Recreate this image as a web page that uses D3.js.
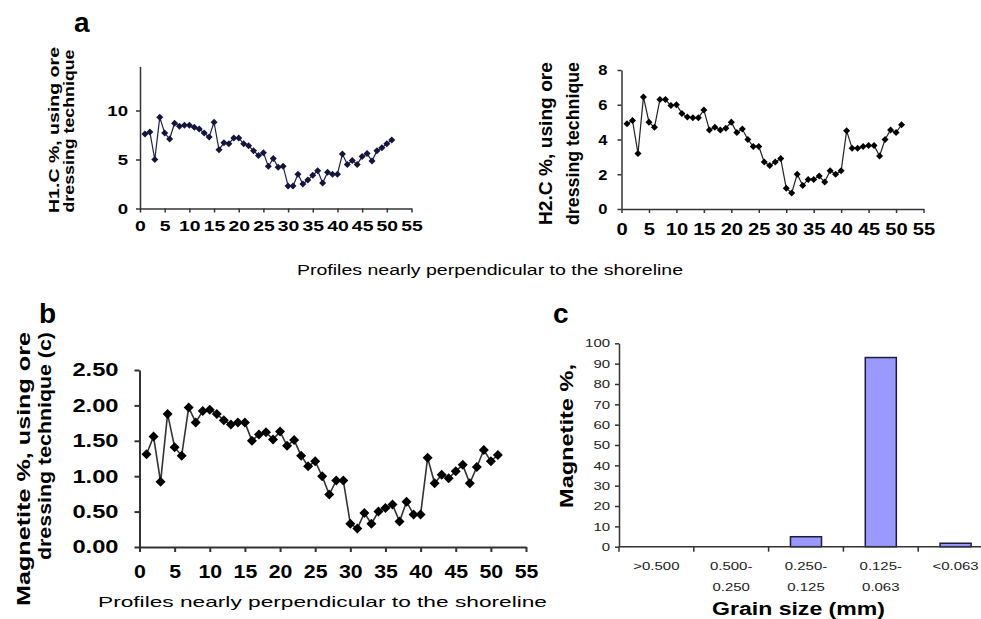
<!DOCTYPE html>
<html><head><meta charset="utf-8">
<script src="https://cdn.jsdelivr.net/npm/d3@7"></script>
<style>body{margin:0;background:#fff} svg{display:block}</style>
</head><body><svg id="chart" width="981" height="619"></svg>
<script>
const FONT = '"Liberation Sans", Arial, sans-serif';

// ---- data ----
const profiles = [1,2,3,4,5,6,7,8,9,10,11,12,13,14,15,16,17,18,19,20,21,22,23,24,25,26,27,28,29,30,31,32,33,34,35,36,37,38,39,40,41,42,43,44,45,46,47,48,49,50,51];
const h1c = [7.6,7.8,5.0,9.3,7.7,7.1,8.7,8.4,8.5,8.5,8.3,8.1,7.7,7.3,8.8,6.0,6.7,6.6,7.2,7.2,6.6,6.4,5.9,5.4,5.7,4.3,5.1,4.2,4.3,2.3,2.3,3.5,2.5,2.9,3.4,3.85,2.6,3.7,3.5,3.5,5.55,4.5,4.9,4.5,5.3,5.6,4.85,5.9,6.2,6.6,7.0];
const h2c = [4.9,5.1,3.2,6.45,5.0,4.7,6.3,6.3,5.95,6.0,5.5,5.3,5.25,5.25,5.7,4.55,4.7,4.55,4.65,5.0,4.4,4.6,4.0,3.6,3.6,2.7,2.5,2.7,2.9,1.2,0.92,2.0,1.35,1.7,1.7,1.9,1.55,2.2,2.0,2.2,4.5,3.5,3.5,3.6,3.65,3.65,3.05,4.0,4.55,4.4,4.85];
const magnetite = [1.31,1.56,0.92,1.88,1.41,1.29,1.97,1.76,1.92,1.94,1.88,1.79,1.73,1.76,1.76,1.50,1.59,1.62,1.52,1.63,1.43,1.51,1.29,1.14,1.21,1.00,0.74,0.94,0.94,0.33,0.26,0.48,0.33,0.50,0.55,0.60,0.36,0.64,0.46,0.46,1.26,0.90,1.02,0.97,1.07,1.16,0.90,1.13,1.37,1.21,1.30];
const grainSizes = [">0.500", "0.500-\n0.250", "0.250-\n0.125", "0.125-\n0.063", "<0.063"];
const grainMagnetite = [0, 0, 4.9, 93, 1.7];

const xTicks = [0,5,10,15,20,25,30,35,40,45,50,55];
const h1Ticks = [0,5,10];
const h2Ticks = [0,2,4,6,8];
const magTicks = [0,0.5,1.0,1.5,2.0,2.5];
const grainTicks = [0,10,20,30,40,50,60,70,80,90,100];

const svg = d3.select("#chart");

function stretch(sel, f){
  sel.each(function(){
    const w = this.getComputedTextLength();
    this.setAttribute("textLength", w*f);
    this.setAttribute("lengthAdjust","spacingAndGlyphs");
  });
}
function fitText(sel, len){
  sel.attr("textLength", len).attr("lengthAdjust","spacingAndGlyphs");
}

function linePanel(c){
  const g = svg.append("g");
  const x = d3.scaleLinear().domain([0,55]).range(c.xr);
  const y = d3.scaleLinear().domain(c.yd).range(c.yr);
  const ax = g.append("g").attr("transform",`translate(0,${c.yr[0]})`)
    .call(d3.axisBottom(x).tickValues(xTicks).tickSize(c.ts).tickSizeOuter(0).tickPadding(c.xpad));
  const ay = g.append("g").attr("transform",`translate(${c.xr[0]},0)`)
    .call(d3.axisLeft(y).tickValues(c.yt).tickFormat(c.fmt).tickSize(c.ts).tickSizeOuter(0).tickPadding(c.ypad));
  [ax,ay].forEach(a=>{
    a.attr("font-family",FONT);
    a.select(".domain").attr("stroke",c.axisColor).attr("stroke-width",c.aw);
    a.selectAll(".tick line").attr("stroke",c.axisColor).attr("stroke-width",c.aw);
  });
  ax.selectAll(".tick text").attr("font-size",c.xfs).attr("font-weight","bold").attr("fill","#000");
  ay.selectAll(".tick text").attr("font-size",c.yfs).attr("font-weight","bold").attr("fill","#000");
  stretch(ax.selectAll(".tick text"), c.xst);
  stretch(ay.selectAll(".tick text"), c.yst);

  const pts = profiles.map((p,i)=>[p, c.data[i]]);
  g.append("path").datum(pts)
    .attr("fill","none").attr("stroke",c.lineColor).attr("stroke-width",c.lw)
    .attr("d", d3.line().x(d=>x(d[0])).y(d=>y(d[1])));
  const sym = d3.symbol(d3.symbolSquare, c.ms*c.ms/2);
  g.append("g").selectAll("path").data(pts).join("path")
    .attr("d", sym)
    .attr("transform", d=>`translate(${x(d[0])},${y(d[1])}) rotate(45)`)
    .attr("fill", c.markColor);

  c.ytitle.forEach(t=>{
    g.append("text").attr("transform",`translate(${t.x},${t.y}) rotate(-90)`)
      .attr("text-anchor",t.anchor).attr("font-family",FONT).attr("font-weight","bold")
      .attr("font-size",c.tfs).attr("fill","#000").text(t.s)
      .call(s=>fitText(s,t.len));
  });
}

// Panel a (left)
linePanel({
  data:h1c, xr:[140,411.5], yd:[0,14.5], yr:[208.5,66.4], yt:h1Ticks, fmt:d3.format("d"),
  ts:4, xpad:7, ypad:8, axisColor:"#333", aw:1.5, xfs:15.5, yfs:15.5, xst:1.25, yst:1.2,
  lineColor:"#1f1f4f", lw:1.2, markColor:"#14143c", ms:7,
  tfs:15.5,
  ytitle:[{s:"H1.C %,  using ore", x:59, y:130, anchor:"middle", len:166},
          {s:"dressing technique", x:74, y:131, anchor:"middle", len:163}]
});
// Panel a (right)
linePanel({
  data:h2c, xr:[621.5,923.5], yd:[0,8], yr:[209,70], yt:h2Ticks, fmt:d3.format("d"),
  ts:4, xpad:10, ypad:10, axisColor:"#333", aw:1.5, xfs:16.5, yfs:15, xst:1.22, yst:1.1,
  lineColor:"#222", lw:1.2, markColor:"#000", ms:7,
  tfs:17.5,
  ytitle:[{s:"H2.C %, using ore", x:552, y:143.5, anchor:"middle", len:163},
          {s:"dressing technique", x:579, y:143.5, anchor:"middle", len:163}]
});
// Panel b
linePanel({
  data:magnetite, xr:[139.5,526], yd:[0,2.5], yr:[547,370], yt:magTicks, fmt:d3.format(".2f"),
  ts:5, xpad:13, ypad:16, axisColor:"#333", aw:2, xfs:18.5, yfs:18.5, xst:1.15, yst:1.28,
  lineColor:"#333", lw:1.6, markColor:"#000", ms:10,
  tfs:18.5,
  ytitle:[{s:"Magnetite %, using ore", x:30, y:332, anchor:"end", len:274},
          {s:"dressing technique (c)", x:51, y:332, anchor:"end", len:228}]
});

// Panel labels
[["a",74,32],["b",39,323],["c",553,323]].forEach(([s,x,y])=>{
  svg.append("text").attr("x",x).attr("y",y).attr("font-family",FONT).attr("font-weight","bold")
    .attr("font-size",28).attr("fill","#000").text(s);
});

// X titles for line panels
svg.append("text").attr("x",297).attr("y",275).attr("font-family",FONT).attr("font-size",14)
  .attr("fill","#000").text("Profiles nearly perpendicular to  the shoreline").call(s=>fitText(s,386));
svg.append("text").attr("x",98).attr("y",607).attr("font-family",FONT).attr("font-size",15)
  .attr("fill","#000").text("Profiles nearly perpendicular to  the shoreline").call(s=>fitText(s,449));

// Panel c
(function(){
  const g = svg.append("g");
  const x = d3.scaleBand().domain(grainSizes).range([619,993]).paddingInner(0.585).paddingOuter(0.2925);
  const y = d3.scaleLinear().domain([0,100]).range([546.7,343.3]);
  const ay = g.append("g").attr("transform","translate(619,0)")
    .call(d3.axisLeft(y).tickValues(grainTicks).tickSize(4).tickSizeOuter(0).tickPadding(5));
  ay.attr("font-family",FONT);
  ay.select(".domain").attr("stroke","#333").attr("stroke-width",1.5);
  ay.selectAll(".tick line").attr("stroke","#333").attr("stroke-width",1.5);
  ay.selectAll(".tick text").attr("font-size",11.5).attr("fill","#222");
  stretch(ay.selectAll(".tick text"),1.3);

  g.selectAll("rect").data(grainSizes).join("rect")
    .attr("x",d=>x(d)).attr("width",x.bandwidth())
    .attr("y",(d,i)=>y(grainMagnetite[i])).attr("height",(d,i)=>y(0)-y(grainMagnetite[i]))
    .attr("fill","#9999ff").attr("stroke","#1c1c3c").attr("stroke-width",1.5);

  const x0 = x.range()[0], step = x.step();
  g.append("line").attr("x1",x0).attr("x2",x.range()[1]).attr("y1",y(0)).attr("y2",y(0))
    .attr("stroke","#333").attr("stroke-width",1.5);
  g.selectAll("line.bt").data(d3.range(grainSizes.length+1)).join("line").attr("class","bt")
    .attr("x1",i=>x0+i*step).attr("x2",i=>x0+i*step).attr("y1",y(0)).attr("y2",y(0)+5)
    .attr("stroke","#333").attr("stroke-width",1.5);

  grainSizes.forEach(d=>{
    const t = g.append("text").attr("text-anchor","middle").attr("font-family",FONT)
      .attr("font-size",11.5).attr("fill","#222");
    d.split("\n").forEach((line,i)=>{
      t.append("tspan").attr("x",x(d)+x.bandwidth()/2).attr("y",570+i*21).text(line);
    });
    stretch(t.selectAll("tspan"),1.3);
  });

  g.append("text").attr("transform","translate(573,436) rotate(-90)").attr("text-anchor","middle")
    .attr("font-family",FONT).attr("font-weight","bold").attr("font-size",18).attr("fill","#000")
    .text("Magnetite %,").call(s=>fitText(s,144));
  g.append("text").attr("x",798.5).attr("y",615).attr("text-anchor","middle")
    .attr("font-family",FONT).attr("font-weight","bold").attr("font-size",18).attr("fill","#000")
    .text("Grain size (mm)").call(s=>fitText(s,173));
})();
</script>
</body></html>
